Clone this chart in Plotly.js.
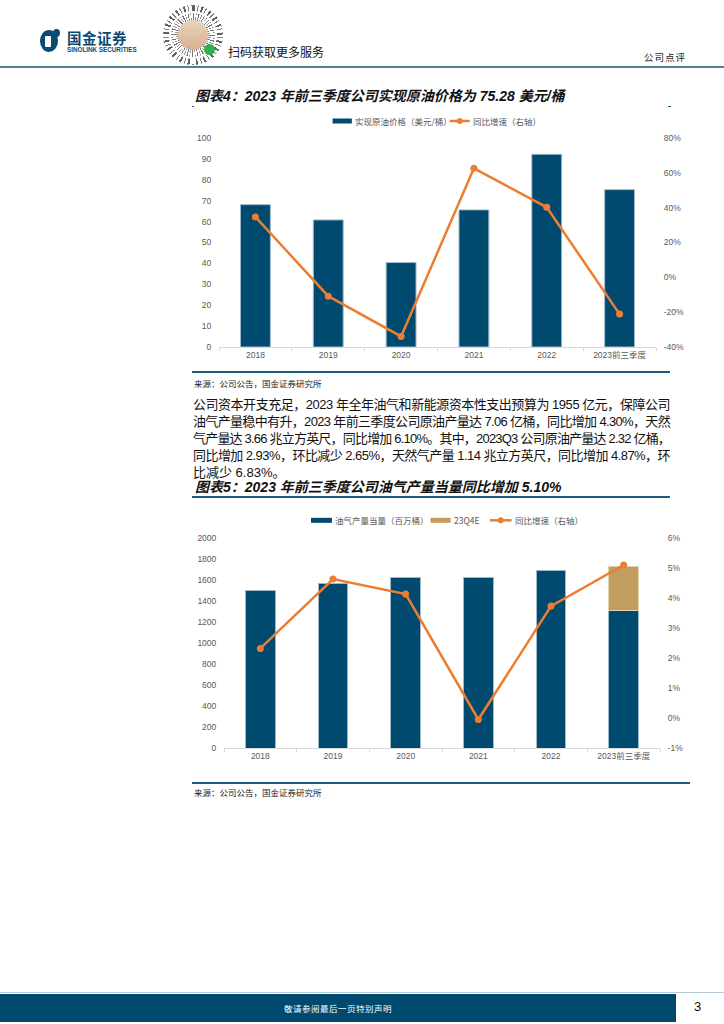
<!DOCTYPE html>
<html>
<head>
<meta charset="utf-8">
<script src="https://cdn.plot.ly/plotly-3.0.1.min.js"></script>
<style>
  html, body { margin:0; padding:0; background:#fff; }
  body { width:724px; height:1024px; position:relative; overflow:hidden;
         font-family:"Liberation Sans","Noto Sans CJK SC",sans-serif; color:#000; }
  .abs { position:absolute; }
  .title { font-family:"Liberation Sans","Noto Sans CJK SC",sans-serif; font-weight:bold; font-style:italic;
           font-size:14px; white-space:nowrap; color:#111; }
  .src { font-family:"Noto Sans CJK SC",sans-serif; font-size:8.5px; color:#222; white-space:nowrap; }
  .para div { height:17px; line-height:17px; font-size:13px; white-space:nowrap; color:#111; }
  .para span { display:inline-block; white-space:nowrap; }
  .hline { position:absolute; background:#1f5a80; }
</style>
</head>
<body>

<!-- header -->
<div class="abs" style="left:40px;top:30px;width:18px;height:22px;background:#0b4a74;border-radius:50%;"></div>
<div class="abs" style="left:45px;top:36px;width:6px;height:11px;background:#fff;border-radius:1px;"></div>
<div class="abs" style="left:53px;top:29px;width:7px;height:8px;background:#0b4a74;border-radius:50%;"></div>
<div class="abs" style="left:67px;top:30px;font-family:'Noto Sans CJK SC';font-weight:bold;font-size:14.5px;color:#0b4a74;line-height:15px;letter-spacing:0.5px;">国金证券</div>
<div class="abs" style="left:67px;top:46px;font-family:'Liberation Sans';font-weight:bold;font-size:6.3px;color:#0b4a74;line-height:7px;">SINOLINK SECURITIES</div>

<div class="abs" style="left:163px;top:5px;width:60px;height:60px;border-radius:50%;
     background:repeating-conic-gradient(#444 0deg 4deg,#fff 4deg 9deg,#666 9deg 11deg,#fff 11deg 17deg);opacity:0.85;"></div>
<div class="abs" style="left:169px;top:11px;width:48px;height:48px;border-radius:50%;background:#fff;"></div>
<div class="abs" style="left:171px;top:13px;width:44px;height:44px;border-radius:50%;
     background:repeating-conic-gradient(#555 0deg 3deg,#fff 3deg 8deg,#777 8deg 10deg,#fff 10deg 15deg);opacity:0.8;"></div>
<div class="abs" style="left:178px;top:20px;width:30px;height:30px;border-radius:50%;background:linear-gradient(#e9d3bd,#d7b190);"></div>
<div class="abs" style="left:204px;top:44px;width:11px;height:11px;border-radius:50%;background:#2bb34a;"></div>
<div class="abs" style="left:228px;top:44px;font-family:'Noto Sans CJK SC';font-size:12px;color:#111;line-height:16px;">扫码获取更多服务</div>
<div class="abs" style="left:644px;top:50px;font-family:'Noto Sans CJK SC';font-size:9.5px;color:#222;line-height:14px;letter-spacing:1px;">公司点评</div>
<div class="abs" style="left:0;top:66px;width:724px;height:2px;background:#4f7f9f;"></div>

<!-- chart 1 title -->
<div class="abs title" style="left:195px;top:87px;line-height:18px;">图表4：2023 年前三季度公司实现原油价格为 75.28 美元/桶</div>
<div class="abs" style="left:192px;top:106px;width:2px;height:1px;background:#1f5a80;"></div>
<div class="abs" style="left:668px;top:106px;width:3px;height:1px;background:#1f5a80;"></div>

<div id="c1" class="abs" style="left:180px;top:110px;width:520px;height:265px;"></div>

<div class="hline" style="left:192px;top:371px;width:478px;height:1.5px;"></div>
<div class="abs src" style="left:194px;top:377px;line-height:12px;">来源：公司公告，国金证券研究所</div>

<!-- paragraph -->
<div class="abs para" id="para" style="left:193px;top:396px;width:477px;">
  <div><span class="j">公司资本开支充足，2023 年全年油气和新能源资本性支出预算为 1955 亿元，保障公司</span></div>
  <div><span class="j">油气产量稳中有升，2023 年前三季度公司原油产量达 7.06 亿桶，同比增加 4.30%，天然</span></div>
  <div><span class="j">气产量达 3.66 兆立方英尺，同比增加 6.10%。其中，2023Q3 公司原油产量达 2.32 亿桶，</span></div>
  <div><span class="j">同比增加 2.93%，环比减少 2.65%，天然气产量 1.14 兆立方英尺，同比增加 4.87%，环</span></div>
  <div><span>比减少 6.83%。</span></div>
</div>

<!-- chart 2 title -->
<div class="abs title" style="left:195px;top:478px;line-height:18px;">图表5：2023 年前三季度公司油气产量当量同比增加 5.10%</div>
<div class="hline" style="left:192px;top:496px;width:478px;height:1.5px;"></div>

<div id="c2" class="abs" style="left:180px;top:500px;width:520px;height:280px;"></div>

<div class="hline" style="left:192px;top:782px;width:498px;height:1.5px;"></div>
<div class="abs src" style="left:194px;top:786px;line-height:12px;">来源：公司公告，国金证券研究所</div>

<!-- footer -->
<div class="abs" style="left:0;top:992px;width:724px;height:1px;background:#b8cad8;"></div>
<div class="abs" style="left:0;top:994px;width:676px;height:28px;background:#004a70;"></div>
<div class="abs" style="left:0;top:994px;width:676px;height:28px;line-height:28px;text-align:center;font-family:'Noto Sans CJK SC';font-size:8.5px;color:#fff;letter-spacing:0.5px;">敬请参阅最后一页特别声明</div>
<div class="abs" style="left:694px;top:998px;font-family:'Liberation Sans';font-size:13px;color:#111;line-height:18px;">3</div>

<script>
// ---------------- data ----------------
const categories = ['2018', '2019', '2020', '2021', '2022', '2023前三季度'];

// chart 1
const oilPrice = [68.1, 60.8, 40.4, 65.6, 92.2, 75.28];          // 实现原油价格（美元/桶）
const oilPriceYoY = [34.7, -10.8, -33.9, 62.6, 40.2, -21.1];     // 同比增速（%）
const oilPriceTicks = [0, 10, 20, 30, 40, 50, 60, 70, 80, 90, 100];
const oilYoYTicks = [-40, -20, 0, 20, 40, 60, 80];

// chart 2
const prodActual = [1496, 1566, 1626, 1626, 1686, 1312];         // 油气产量当量（百万桶）
const prodQ4E = [null, null, null, null, null, 419];              // 23Q4E
const prodYoY = [2.32, 4.63, 4.13, -0.05, 3.73, 5.10];           // 同比增速（%）
const prodTicks = [0, 200, 400, 600, 800, 1000, 1200, 1400, 1600, 1800, 2000];
const prodYoYTicks = [-1, 0, 1, 2, 3, 4, 5, 6];

const legend1 = ['实现原油价格（美元/桶）', '同比增速（右轴）'];
const legend2 = ['油气产量当量（百万桶）', '23Q4E', '同比增速（右轴）'];

// ---------------- justify paragraph lines ----------------
(function () {
  const target = 477;
  document.querySelectorAll('#para span.j').forEach(sp => {
    const n = sp.textContent.length;
    const w = sp.getBoundingClientRect().width;
    const ls = (target - w) / (n - 1);
    sp.style.letterSpacing = ls.toFixed(3) + 'px';
    // correct for trailing spacing on last glyph
    const w2 = sp.getBoundingClientRect().width;
    const ls2 = ls + (target - w2) / (n - 1);
    sp.style.letterSpacing = ls2.toFixed(3) + 'px';
  });
})();

// ---------------- styles ----------------
const NAVY = '#004a6f';
const TAN = '#c29d5e';
const ORANGE = '#ed7d31';
const GRAY = '#595959';
const tickFont = { family: 'Liberation Sans, Noto Sans CJK SC, sans-serif', size: 8.5, color: GRAY };
const legFont = { family: 'Noto Sans CJK SC, sans-serif', size: 8.5, color: GRAY };

function makeLegend(spec, plotL, plotW, plotBottom, plotH) {
  const fx = p => (p - plotL) / plotW;
  const fy = p => (plotBottom - p) / plotH;
  const shapes = [], ann = [];
  spec.forEach(s => {
    if (s.type === 'rect') {
      shapes.push({ type: 'rect', xref: 'paper', yref: 'paper', x0: fx(s.x0), x1: fx(s.x1),
        y0: fy(s.y + 2.5), y1: fy(s.y - 2.5), fillcolor: s.color, line: { width: 0 } });
    } else {
      shapes.push({ type: 'line', xref: 'paper', yref: 'paper', x0: fx(s.x0), x1: fx(s.x1),
        y0: fy(s.y), y1: fy(s.y), line: { color: s.color, width: 2.5 } });
      const m = (s.x0 + s.x1) / 2;
      shapes.push({ type: 'circle', xref: 'paper', yref: 'paper', x0: fx(m - 3), x1: fx(m + 3),
        y0: fy(s.y + 3), y1: fy(s.y - 3), fillcolor: s.color, line: { width: 0 } });
    }
    ann.push({ xref: 'paper', yref: 'paper', x: fx(s.x1 + 1.5), y: fy(s.y), text: s.text,
      showarrow: false, xanchor: 'left', yanchor: 'middle', font: legFont });
  });
  return { shapes, ann };
}

const config = { staticPlot: true, displayModeBar: false };

// ---------------- chart 1 ----------------
(function () {
  const W = 520, H = 265, mL = 39, mR = 43.5, mT = 28, mB = 28;
  const pw = W - mL - mR, ph = H - mT - mB;
  const leg = makeLegend([
    { type: 'rect', x0: 152.7, x1: 172, y: 11, color: NAVY, text: legend1[0] },
    { type: 'line', x0: 270, x1: 290, y: 11, color: ORANGE, text: legend1[1] }
  ], mL, pw, H - mB, ph);

  const traces = [
    { type: 'bar', x: categories, y: oilPrice, name: legend1[0], width: 0.41,
      marker: { color: NAVY, line: { color: '#9fb9cb', width: 1 } } },
    { type: 'scatter', mode: 'lines+markers', x: categories, y: oilPriceYoY, yaxis: 'y2', name: legend1[1],
      line: { color: ORANGE, width: 2.5 }, marker: { color: ORANGE, size: 7 } }
  ];
  const layout = {
    width: W, height: H, margin: { l: mL, r: mR, t: mT, b: mB },
    paper_bgcolor: '#fff', plot_bgcolor: '#fff', showlegend: false,
    font: tickFont,
    xaxis: { type: 'category', tickfont: tickFont, showline: true, linecolor: '#d9d9d9', linewidth: 1,
      ticks: 'outside', ticklen: 3, tickcolor: '#d9d9d9', tickson: 'boundaries', showgrid: false,
      zeroline: false, fixedrange: true },
    yaxis: { range: [0, 100], tickvals: oilPriceTicks, ticktext: oilPriceTicks.map(String),
      tickfont: tickFont, showgrid: false, zeroline: false, showline: false,
      ticks: 'outside', ticklen: 5, tickcolor: 'rgba(0,0,0,0)' },
    yaxis2: { overlaying: 'y', side: 'right', range: [-40, 80], tickvals: oilYoYTicks,
      ticktext: oilYoYTicks.map(v => v + '%'), tickfont: tickFont, showgrid: false, zeroline: false,
      showline: false, ticks: 'outside', ticklen: 5, tickcolor: 'rgba(0,0,0,0)' },
    bargap: 0.59,
    shapes: leg.shapes, annotations: leg.ann
  };
  Plotly.newPlot('c1', traces, layout, config);
})();

// ---------------- chart 2 ----------------
(function () {
  const W = 520, H = 280, mL = 43.5, mR = 39.5, mT = 37.7, mB = 32;
  const pw = W - mL - mR, ph = H - mT - mB;
  const leg = makeLegend([
    { type: 'rect', x0: 130.7, x1: 151.7, y: 20, color: NAVY, text: legend2[0] },
    { type: 'rect', x0: 250.5, x1: 270.7, y: 20, color: TAN, text: legend2[1] },
    { type: 'line', x0: 310, x1: 331.7, y: 20, color: ORANGE, text: legend2[2] }
  ], mL, pw, H - mB, ph);

  const traces = [
    { type: 'bar', x: categories, y: prodActual, name: legend2[0], width: 0.41,
      marker: { color: NAVY, line: { color: '#9fb9cb', width: 1 } } },
    { type: 'bar', x: categories, y: prodQ4E, name: legend2[1], width: 0.41,
      marker: { color: TAN, line: { color: '#e3d3b5', width: 1 } } },
    { type: 'scatter', mode: 'lines+markers', x: categories, y: prodYoY, yaxis: 'y2', name: legend2[2],
      line: { color: ORANGE, width: 2.5 }, marker: { color: ORANGE, size: 7 } }
  ];
  const layout = {
    width: W, height: H, margin: { l: mL, r: mR, t: mT, b: mB },
    paper_bgcolor: '#fff', plot_bgcolor: '#fff', showlegend: false, barmode: 'stack',
    font: tickFont,
    xaxis: { type: 'category', tickfont: tickFont, showline: true, linecolor: '#d9d9d9', linewidth: 1,
      ticks: 'outside', ticklen: 3, tickcolor: '#d9d9d9', tickson: 'boundaries', showgrid: false,
      zeroline: false },
    yaxis: { range: [0, 2000], tickvals: prodTicks, ticktext: prodTicks.map(String),
      tickfont: tickFont, showgrid: false, zeroline: false, showline: false,
      ticks: 'outside', ticklen: 5, tickcolor: 'rgba(0,0,0,0)' },
    yaxis2: { overlaying: 'y', side: 'right', range: [-1, 6], tickvals: prodYoYTicks,
      ticktext: prodYoYTicks.map(v => v + '%'), tickfont: tickFont, showgrid: false, zeroline: false,
      showline: false, ticks: 'outside', ticklen: 5, tickcolor: 'rgba(0,0,0,0)' },
    bargap: 0.59,
    shapes: leg.shapes, annotations: leg.ann
  };
  Plotly.newPlot('c2', traces, layout, config);
})();
</script>
</body>
</html>
